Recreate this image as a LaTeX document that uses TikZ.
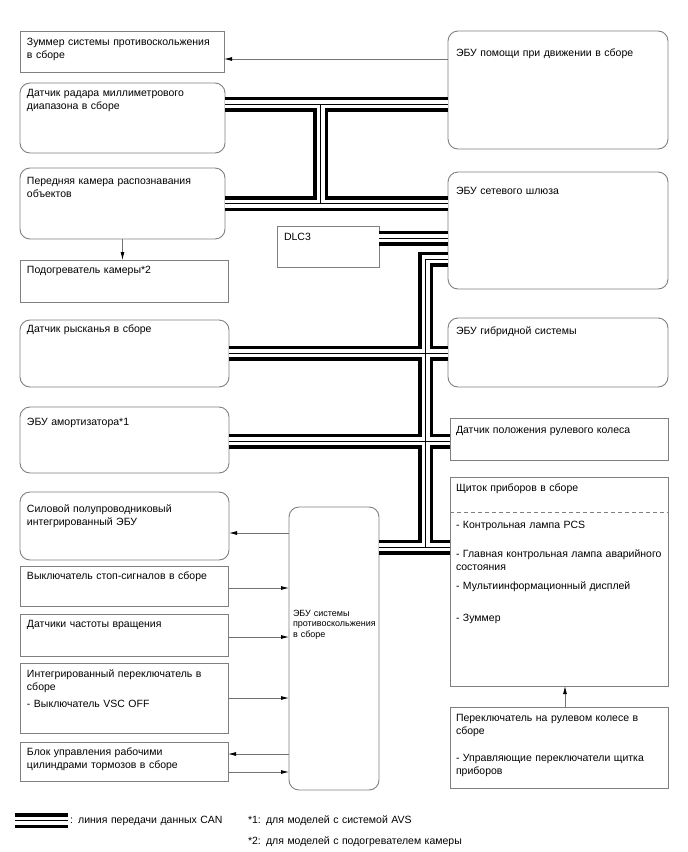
\documentclass[tikz,border=0pt]{standalone}
\usepackage{fontspec}
\setmainfont{Liberation Sans}
\usetikzlibrary{arrows.meta,calc}
\tikzset{
  box/.style={draw=black!50, line width=0.9pt, fill=white, inner sep=0pt, outer sep=0pt, anchor=north west},
  rbox/.style={box, rounded corners=10pt},
  txt/.style={anchor=base west, inner sep=0pt, outer sep=0pt, text width=260pt, align=left, font=\fontsize{10.5}{13.5}\selectfont},
  stxt/.style={txt, font=\fontsize{9}{10.5}\selectfont},
  arr/.style={draw=black!55, line width=0.8pt, -{Latex[length=8pt,width=4pt,color=black]}},
  busA/.style={line width=15pt, black, line join=miter},
  busB/.style={line width=8pt, white, line join=miter},
  busC/.style={line width=1pt, black, line join=miter},
}
\newcommand\bx[6]{\node[#6, minimum width=#4pt, minimum height=#5pt] (#1) at (#2,#3) {};}
\newcommand\tx[4]{\node[txt] (#1) at (#2,#3) {#4};}
\newcommand\canpaths[1]{%
  \draw[#1] (radar.east |- c1) -- (assist.west |- c1);
  \draw[#1] (c1) -- (c2);
  \draw[#1] (cam.east |- c2) -- (gw.west |- c2);
  \draw[#1] (dlc.east |- c3) -- (gw.west |- c3);
  \draw[#1] (gw.west |- c4) -- (c4) -- (c5);
  \draw[#1] (yaw.east |- c6) -- (hyb.west |- c6);
  \draw[#1] (shock.east |- c7) -- (steer.west |- c7);
  \draw[#1] (ecu.east |- c5) -- (meter.west |- c5);
}
\begin{document}
\begin{tikzpicture}[x=1pt,y=-1pt]
\useasboundingbox (0,0) rectangle (688,852);
\fill[white] (0,0) rectangle (688,852);
% left column
\bx{zum}{20}{31}{204}{41}{box}
\bx{radar}{20}{83}{205}{70}{rbox}
\bx{cam}{20}{168}{205}{71}{rbox}
\bx{heat}{20}{260}{208}{42}{box}
\bx{yaw}{20}{320}{209}{67}{rbox}
\bx{shock}{20}{407}{209}{66}{rbox}
\bx{pcu}{20}{492}{209}{68}{rbox}
\bx{stop}{20}{566}{208}{40}{box}
\bx{speed}{20}{614}{208}{42}{box}
\bx{integ}{20}{663}{208}{70}{box}
\bx{brake}{20}{742}{208}{39}{box}
% right column
\bx{assist}{448}{31}{220}{118}{rbox}
\bx{gw}{448}{172}{220}{117}{rbox}
\bx{hyb}{448}{318}{220}{69}{rbox}
\bx{steer}{450}{418}{218}{42}{box}
\bx{meter}{450}{477}{218}{209}{box}
\bx{sw}{450}{707}{218}{81}{box}
% middle
\bx{dlc}{277}{226}{102}{41}{box}
\bx{ecu}{289}{507}{90}{283}{rbox}

% texts
\tx{zumt}{27}{45}{Зуммер системы противоскольжения\\в сборе}
\tx{radart}{27}{96}{Датчик радара миллиметрового\\диапазона в сборе}
\tx{camt}{27}{184}{Передняя камера распознавания\\объектов}
\tx{heatt}{27}{273}{Подогреватель камеры*2}
\tx{yawt}{27}{332}{Датчик рысканья в сборе}
\tx{shockt}{27}{425}{ЭБУ амортизатора*1}
\tx{pcut}{27}{512}{Силовой полупроводниковый\\интегрированный ЭБУ}
\tx{stopt}{27}{579}{Выключатель стоп-сигналов в сборе}
\tx{speedt}{27}{627}{Датчики частоты вращения}
\tx{integt}{27}{677}{Интегрированный переключатель в\\сборе\\[3pt]- Выключатель VSC OFF}
\tx{braket}{27}{755}{Блок управления рабочими\\цилиндрами тормозов в сборе}
\tx{assistt}{456}{56}{ЭБУ помощи при движении в сборе}
\tx{gwt}{456}{194}{ЭБУ сетевого шлюза}
\tx{hybt}{456}{334}{ЭБУ гибридной системы}
\tx{steert}{456}{433}{Датчик положения рулевого колеса}
\tx{metert}{456}{491}{Щиток приборов в сборе}
\tx{meter1}{456}{528}{- Контрольная лампа PCS}
\tx{meter2}{456}{557}{- Главная контрольная лампа аварийного\\состояния}
\tx{meter3}{456}{589}{- Мультиинформационный дисплей}
\tx{meter4}{456}{621}{- Зуммер}
\tx{swt}{456}{721}{Переключатель на рулевом колесе в\\сборе\\[13pt]- Управляющие переключатели щитка\\приборов}
\tx{dlct}{284}{240}{DLC3}
\node[stxt] (ecut) at (293,616) {ЭБУ системы\\противоскольжения\\в сборе};

% dashed separator
\coordinate (d1) at (0,512);
\draw[draw=black!50, line width=0.7pt, dash pattern=on 4pt off 3pt] (meter.west |- d1) -- (meter.east |- d1);

% CAN bus
\coordinate (c1) at (320.5,104);
\coordinate (c2) at (320.5,203.5);
\coordinate (c3) at (400,238);
\coordinate (c4) at (425.5,259);
\coordinate (c5) at (425.5,547);
\coordinate (c6) at (425.5,353);
\coordinate (c7) at (425.5,441);
\canpaths{busA}
\canpaths{busB}
\canpaths{busC}

% arrows
\coordinate (a1) at (0,59);
\coordinate (a2) at (0,533);
\coordinate (a3) at (0,588);
\coordinate (a4) at (0,637);
\coordinate (a5) at (0,698);
\coordinate (a6) at (0,754);
\coordinate (a7) at (0,772);
\coordinate (a8) at (565,0);
\draw[arr] (assist.west |- a1) -- (zum.east |- a1);
\draw[arr] (cam.south) -- (cam.south |- heat.north);
\draw[arr] (ecu.west |- a2) -- (pcu.east |- a2);
\draw[arr] (stop.east |- a3) -- (ecu.west |- a3);
\draw[arr] (speed.east |- a4) -- (ecu.west |- a4);
\draw[arr] (integ.east |- a5) -- (ecu.west |- a5);
\draw[arr] (ecu.west |- a6) -- (brake.east |- a6);
\draw[arr] (brake.east |- a7) -- (ecu.west |- a7);
\draw[arr] (sw.north -| a8) -- (meter.south -| a8);

% legend
\coordinate (l1) at (15,820.5);
\coordinate (l2) at (68,820.5);
\draw[busA] (l1) -- (l2);
\draw[busB] (l1) -- (l2);
\draw[busC] (l1) -- (l2);
\tx{legt}{70}{823}{: линия передачи данных CAN}
\tx{note1}{248}{823}{*1: для моделей с системой AVS}
\tx{note2}{248}{844}{*2: для моделей с подогревателем камеры}
\end{tikzpicture}
\end{document}
